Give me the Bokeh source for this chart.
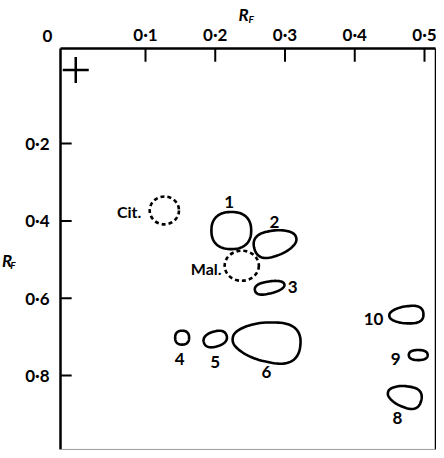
import numpy as np
from bokeh.plotting import figure
from bokeh.models import Range1d
from bokeh.core.properties import value
from bokeh.embed import file_html
from bokeh.resources import INLINE

# ---- data (R_F values) ----
x_ticks = [0.1, 0.2, 0.3, 0.4, 0.5]
y_ticks = [0.2, 0.4, 0.6, 0.8]
x_tick_labels = ["0\u00b71", "0\u00b72", "0\u00b73", "0\u00b74", "0\u00b75"]
y_tick_labels = ["0\u00b72", "0\u00b74", "0\u00b76", "0\u00b78"]

spot_id = ["1", "2", "3", "4", "5", "6", "8", "9", "10"]
spot_x = [0.223, 0.286, 0.278, 0.1525, 0.200, 0.2735, 0.4715, 0.491, 0.474]
spot_y = [0.425, 0.457, 0.572, 0.702, 0.7055, 0.713, 0.854, 0.747, 0.643]
spot_w = [0.057, 0.062, 0.043, 0.020, 0.034, 0.0975, 0.049, 0.027, 0.049]
spot_h = [0.096, 0.065, 0.031, 0.036, 0.039, 0.101, 0.054, 0.026, 0.044]
label_x = [0.220, 0.285, 0.311, 0.149, 0.200, 0.2735, 0.4613, 0.4585, 0.427]
label_y = [0.350, 0.404, 0.570, 0.756, 0.764, 0.792, 0.911, 0.758, 0.655]

ref_name = ["Cit.", "Mal."]
ref_x = [0.127, 0.238]
ref_y = [0.373, 0.516]
ref_w = [0.042, 0.049]
ref_h = [0.072, 0.078]
ref_label_x = [0.094, 0.209]
ref_label_y = [0.376, 0.523]

origin_x = [0.0]
origin_y = [0.01]

# ---- outline styling of each spot (tilt in radians, egg-like taper) ----
spot_tilt = [0.0, 0.25, 0.20, 0.0, 0.30, -0.10, -0.25, 0.0, 0.05]
spot_taper = [0.0, -0.25, -0.15, 0.0, 0.0, 0.30, 0.28, 0.0, 0.25]

# ---- layout constants ----
BOX_L, BOX_R, BOX_T, BOX_B = -0.02186, 0.51577, -0.04577, 0.99100
TICK_X_LEN, TICK_Y_LEN = 0.034, 0.016
FONT = "Lato"
W_PX, H_PX = 436, 450
X0, X1 = -0.10789, 0.51720
Y_TOP, Y_BOT = -0.16990, 0.99379
SX = W_PX / (X1 - X0)        # px per R_F unit horizontally
SY = H_PX / (Y_BOT - Y_TOP)  # px per R_F unit vertically
ROUND = 0.85                 # <1 gives slightly boxy, hand-drawn outlines


def outline(cx, cy, w, h, tilt, taper, n=90):
    t = np.linspace(0, 2 * np.pi, n)
    c, s = np.cos(t), np.sin(t)
    a, b = w * SX / 2, h * SY / 2
    dx = a * np.sign(c) * np.abs(c) ** ROUND
    dy = b * np.sign(s) * np.abs(s) ** ROUND * (1 + taper * c)
    rx = dx * np.cos(tilt) + dy * np.sin(tilt)
    ry = -dx * np.sin(tilt) + dy * np.cos(tilt)
    return list(cx + rx / SX), list(cy + ry / SY)


p = figure(width=W_PX, height=H_PX, output_backend="svg", toolbar_location=None,
           x_range=Range1d(X0, X1), y_range=Range1d(Y_BOT, Y_TOP),
           x_axis_location=None, y_axis_location=None, min_border=0)
p.grid.visible = False
p.outline_line_color = None
p.background_fill_color = "white"
p.border_fill_color = "white"

# frame of the chromatogram: thick top/left axes, thin right/bottom edges
p.segment(x0=[BOX_L, BOX_L], y0=[BOX_T, BOX_T], x1=[BOX_R, BOX_L], y1=[BOX_T, BOX_B],
          line_color="black", line_width=2.5)
p.segment(x0=[BOX_R], y0=[BOX_T], x1=[BOX_R], y1=[BOX_B], line_color="black", line_width=1.5)
p.segment(x0=[BOX_L], y0=[BOX_B], x1=[BOX_R], y1=[BOX_B], line_color="#999999", line_width=1)

# inward ticks
p.segment(x0=x_ticks, y0=[BOX_T] * len(x_ticks), x1=x_ticks,
          y1=[BOX_T + TICK_X_LEN] * len(x_ticks), line_color="black", line_width=2)
p.segment(x0=[BOX_L] * len(y_ticks), y0=y_ticks, x1=[BOX_L + TICK_Y_LEN] * len(y_ticks),
          y1=y_ticks, line_color="black", line_width=2)

# tick labels
p.text(x=x_ticks, y=[-0.0812] * len(x_ticks), text=x_tick_labels, text_font=value(FONT),
       text_font_style="bold", text_font_size="17px", text_align="center",
       text_baseline="middle", text_color="black")
p.text(x=[-0.0376] * len(y_ticks), y=y_ticks, text=y_tick_labels, text_font=value(FONT),
       text_font_style="bold", text_font_size="17px", text_align="right",
       text_baseline="middle", text_color="black")
p.text(x=[-0.0405], y=[-0.0790], text=["0"], text_font=value(FONT),
       text_font_style="bold", text_font_size="17px", text_align="center",
       text_baseline="middle", text_color="black")

# axis titles R_F (top and left)
p.text(x=[0.2405, -0.0986], y=[-0.1337, 0.5017], text=["R", "R"], text_font=value(FONT),
       text_font_style="bold italic", text_font_size="17px", text_align="center",
       text_baseline="middle", text_color="black")
p.text(x=[0.2516, -0.0902], y=[-0.1233, 0.5146], text=["F", "F"], text_font=value(FONT),
       text_font_style="bold italic", text_font_size="10px", text_align="center",
       text_baseline="middle", text_color="black")

# spots as closed outlines
xs, ys = [], []
for cx, cy, w, h, tl, tp in zip(spot_x, spot_y, spot_w, spot_h, spot_tilt, spot_taper):
    ox, oy = outline(cx, cy, w, h, tl, tp)
    xs.append(ox)
    ys.append(oy)
p.patches(xs=xs, ys=ys, fill_color=None, line_color="black", line_width=2.6,
          line_join="round")

# reference acids (dashed)
p.ellipse(x=ref_x, y=ref_y, width=ref_w, height=ref_h,
          fill_color=None, line_color="black", line_width=2.6, line_dash="4 3")
# origin
p.scatter(x=origin_x, y=origin_y, marker="cross", size=26, line_width=2.5,
          line_color="black")

p.text(x=label_x, y=label_y, text=spot_id, text_font=value(FONT),
       text_font_style="bold", text_font_size="17px", text_align="center",
       text_baseline="middle", text_color="black")
p.text(x=ref_label_x, y=ref_label_y, text=ref_name, text_font=value(FONT),
       text_font_size="16px", text_font_style="bold", text_align="right",
       text_baseline="middle", text_color="black")

open("out.html", "w").write(file_html(p, INLINE))
